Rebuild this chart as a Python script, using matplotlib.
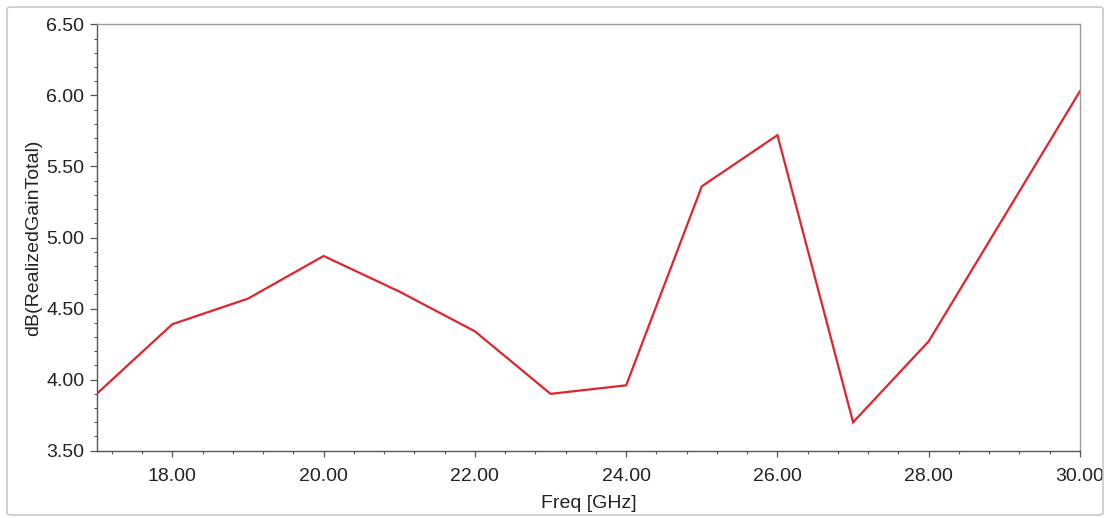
import matplotlib
matplotlib.use("Agg")
import matplotlib.pyplot as plt
from matplotlib.patches import FancyBboxPatch
from matplotlib.ticker import MultipleLocator, FormatStrFormatter

freq_ghz = [17, 18, 19, 20, 21, 22, 23, 24, 25, 26, 27, 28, 29, 30]
gain_db = [3.90, 4.39, 4.57, 4.87, 4.62, 4.34, 3.90, 3.96, 5.36, 5.72, 3.70, 4.27, 5.15, 6.03]

x_label = "Freq [GHz]"
y_label = "dB(RealizedGainTotal)"

plt.rcParams['font.family'] = ['Liberation Sans', 'DejaVu Sans']

W, H = 1110, 518
fig = plt.figure(figsize=(W / 100, H / 100), dpi=100)
fig.patch.set_facecolor('white')

# outer frame
frame = FancyBboxPatch((7 / W, 3 / H), (1096 / W), (508 / H),
                       boxstyle="round,pad=0,rounding_size=0.004",
                       transform=fig.transFigure, facecolor='none',
                       edgecolor='#c8c8c8', linewidth=1.2)
fig.patches.append(frame)

left, right = 96.7 / W, 1080 / W
top, bottom = 1 - 24.3 / H, 1 - 450.7 / H
ax = fig.add_axes([left, bottom, right - left, top - bottom])

ax.plot(freq_ghz, gain_db, color='#e0242c', linewidth=1.6, solid_joinstyle='miter')

ax.set_xlim(17, 30)
ax.set_ylim(3.5, 6.5)
ax.xaxis.set_major_locator(MultipleLocator(2))
ax.xaxis.set_minor_locator(MultipleLocator(0.4))
ax.yaxis.set_major_locator(MultipleLocator(0.5))
ax.yaxis.set_minor_locator(MultipleLocator(0.1))
ax.xaxis.set_major_formatter(FormatStrFormatter('%.2f'))
ax.yaxis.set_major_formatter(FormatStrFormatter('%.2f'))

for s in ['left', 'bottom']:
    ax.spines[s].set_color('#555555')
    ax.spines[s].set_linewidth(1.0)
for s in ['top', 'right']:
    ax.spines[s].set_color('#9a9a9a')
    ax.spines[s].set_linewidth(1.0)

ax.tick_params(axis='x', which='major', direction='out', length=4.3, width=0.9,
               color='#555555', labelsize=14, pad=8.5, labelcolor='#222222')
ax.tick_params(axis='x', which='minor', direction='out', length=2.4, width=0.8,
               color='#555555')
ax.tick_params(axis='y', which='major', direction='out', length=5, width=0.9,
               color='#555555', labelsize=14, pad=4, labelcolor='#222222')
ax.tick_params(axis='y', which='minor', direction='out', length=2.4, width=0.8,
               color='#555555')

ax.set_xlabel(x_label, fontsize=14, color='#222222', labelpad=7)
ax.set_ylabel(y_label, fontsize=14, color='#222222', labelpad=3)

fig.savefig('out.png', dpi=100, facecolor='white')
